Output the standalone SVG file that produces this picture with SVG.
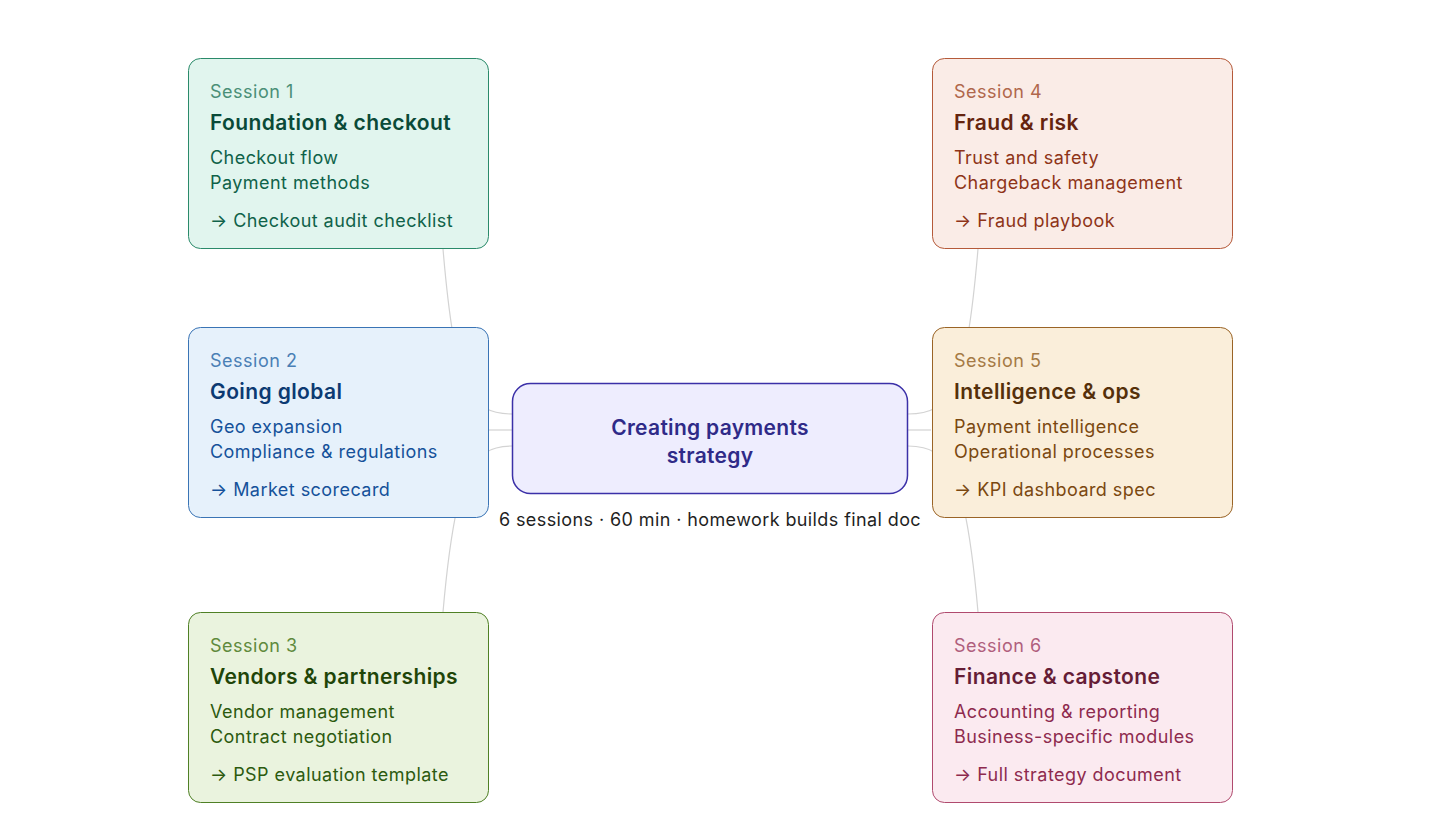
<svg xmlns="http://www.w3.org/2000/svg" width="1456" height="833" viewBox="0 0 1456 833">
<style>
text{font-family:Inter,"Noto Sans","Liberation Sans",sans-serif}
.lbl{font-size:18px;letter-spacing:0.5px}
.ttl{font-size:21px;font-weight:600;letter-spacing:0.4px}
.it{font-size:18px;letter-spacing:0.45px}
.box{stroke-width:1}
.conn{fill:none;stroke:#d3d3d3;stroke-width:1.2}
</style>
<rect width="1456" height="833" fill="#ffffff"/>
<g id="connectors">
<path class="conn" d="M443 249 C455 390 470 414 512 414"/>
<path class="conn" d="M489 430 L512 430"/>
<path class="conn" d="M443 612 C455 475 470 446 512 446"/>
<path class="conn" d="M978 249 C966 390 951 414 908 414"/>
<path class="conn" d="M931 430 L908 430"/>
<path class="conn" d="M978 612 C966 475 951 446 908 446"/>
</g>
<g id="center">
<rect x="512.5" y="383.5" width="395" height="110" rx="18" fill="#eeedfe" stroke="#3b30a8" stroke-width="1.5"/>
<text x="710" y="435" text-anchor="middle" font-size="21" font-weight="600" letter-spacing="0.3" fill="#2f2a88">Creating payments</text>
<text x="710" y="463" text-anchor="middle" font-size="21" font-weight="600" letter-spacing="0.3" fill="#2f2a88">strategy</text>
</g>
<g id="caption">
<text x="710" y="526" text-anchor="middle" font-size="18" letter-spacing="0.4" fill="#1f1f1f">6 sessions · 60 min · homework builds final doc</text>
</g>
<g id="session1">
<rect class="box" x="188.5" y="58.5" width="300" height="190" rx="12" fill="#e1f5ee" stroke="#2a8a6a"/>
<text class="lbl" x="210" y="98" fill="#4a8f77">Session 1</text>
<text class="ttl" x="210" y="130" fill="#0a4a38">Foundation &amp; checkout</text>
<text class="it" x="210" y="164" fill="#0f6249">Checkout flow</text>
<text class="it" x="210" y="189" fill="#0f6249">Payment methods</text>
<text class="it" x="210" y="227" fill="#0f6249">→ Checkout audit checklist</text>
</g>
<g id="session2">
<rect class="box" x="188.5" y="327.5" width="300" height="190" rx="12" fill="#e6f1fb" stroke="#3a74b5"/>
<text class="lbl" x="210" y="367" fill="#4a7fb5">Session 2</text>
<text class="ttl" x="210" y="399" fill="#0c3a72">Going global</text>
<text class="it" x="210" y="433" fill="#15519a">Geo expansion</text>
<text class="it" x="210" y="458" fill="#15519a">Compliance &amp; regulations</text>
<text class="it" x="210" y="496" fill="#15519a">→ Market scorecard</text>
</g>
<g id="session3">
<rect class="box" x="188.5" y="612.5" width="300" height="190" rx="12" fill="#eaf3de" stroke="#4f8025"/>
<text class="lbl" x="210" y="652" fill="#5f8a3c">Session 3</text>
<text class="ttl" x="210" y="684" fill="#1f4508">Vendors &amp; partnerships</text>
<text class="it" x="210" y="718" fill="#2c5a0f">Vendor management</text>
<text class="it" x="210" y="743" fill="#2c5a0f">Contract negotiation</text>
<text class="it" x="210" y="781" fill="#2c5a0f">→ PSP evaluation template</text>
</g>
<g id="session4">
<rect class="box" x="932.5" y="58.5" width="300" height="190" rx="12" fill="#faece7" stroke="#b55a3a"/>
<text class="lbl" x="954" y="98" fill="#b0674c">Session 4</text>
<text class="ttl" x="954" y="130" fill="#65240f">Fraud &amp; risk</text>
<text class="it" x="954" y="164" fill="#8e3418">Trust and safety</text>
<text class="it" x="954" y="189" fill="#8e3418">Chargeback management</text>
<text class="it" x="954" y="227" fill="#8e3418">→ Fraud playbook</text>
</g>
<g id="session5">
<rect class="box" x="932.5" y="327.5" width="300" height="190" rx="12" fill="#faeeda" stroke="#9a6426"/>
<text class="lbl" x="954" y="367" fill="#a57a45">Session 5</text>
<text class="ttl" x="954" y="399" fill="#55300a">Intelligence &amp; ops</text>
<text class="it" x="954" y="433" fill="#7a4810">Payment intelligence</text>
<text class="it" x="954" y="458" fill="#7a4810">Operational processes</text>
<text class="it" x="954" y="496" fill="#7a4810">→ KPI dashboard spec</text>
</g>
<g id="session6">
<rect class="box" x="932.5" y="612.5" width="300" height="190" rx="12" fill="#fbeaf0" stroke="#b04a6e"/>
<text class="lbl" x="954" y="652" fill="#b05f7d">Session 6</text>
<text class="ttl" x="954" y="684" fill="#651d36">Finance &amp; capstone</text>
<text class="it" x="954" y="718" fill="#8e2a4e">Accounting &amp; reporting</text>
<text class="it" x="954" y="743" fill="#8e2a4e">Business-specific modules</text>
<text class="it" x="954" y="781" fill="#8e2a4e">→ Full strategy document</text>
</g>
</svg>
